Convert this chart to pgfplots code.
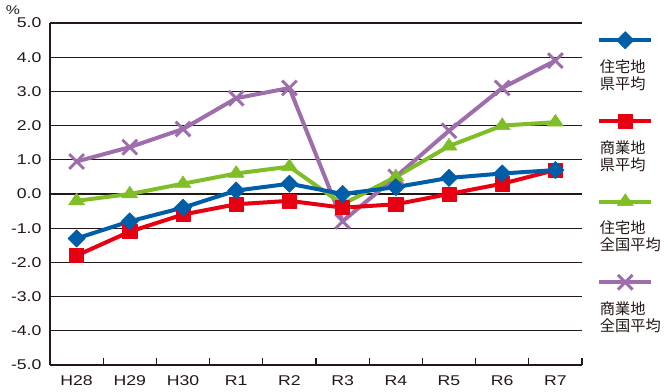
\documentclass[border=0pt]{standalone}
\usepackage{pgfplots}
\pgfplotsset{compat=1.18}
\usepackage{fontspec}
\setmainfont{Liberation Sans}
\newfontfamily\tickfont[FakeStretch=1.25]{Liberation Sans}
\newfontfamily\cjk{Noto Sans CJK JP}
\definecolor{cblue}{RGB}{0,94,168}
\definecolor{cred}{RGB}{230,0,18}
\definecolor{cgreen}{RGB}{128,190,40}
\definecolor{cpurple}{RGB}{158,110,172}
\definecolor{ctext}{RGB}{35,24,21}

\pgfplotsset{
  legtext/.style={legend image code/.code={%
    \path[draw=none,fill=none] (-2pt,-46pt) rectangle (41pt,14.5pt);
    \draw[##1,mark=none] (0pt,0pt) -- (39pt,0pt);
    \draw[##1] plot coordinates {(19.5pt,0pt)};
    \node[draw=none,fill=none,anchor=north west,align=left,inner sep=0pt,font=\cjk\fontsize{11.4}{12.75}\selectfont,text=ctext] at (-1pt,-13pt) {#1};
  }}
}

\begin{document}
\begin{tikzpicture}
\begin{axis}[
  name=ax,
  scale only axis,
  width=399pt, height=256.5pt,
  xmin=-0.5, xmax=9.5, ymin=-5, ymax=5,
  axis x line*=bottom, axis y line*=left,
  axis line style={-, line width=0.8pt, ctext},
  xtick={-0.5,0.5,1.5,2.5,3.5,4.5,5.5,6.5,7.5,8.5,9.5},
  x tick label as interval,
  xticklabels={H28,H29,H30,R1,R2,R3,R4,R5,R6,R7},
  xtick style={line width=0.8pt, ctext},
  tick align=inside,
  major tick length=5.25pt,
  ytick={-5,-4,-3,-2,-1,0,1,2,3,4,5},
  yticklabels={-5.0,-4.0,-3.0,-2.0,-1.0,0.0,1.0,2.0,3.0,4.0,5.0},
  ytick style={draw=none},
  ymajorgrids,
  major grid style={line width=0.8pt, ctext},
  ticklabel style={font=\tickfont\fontsize{10.6}{13}\selectfont, text=ctext},
  xticklabel style={anchor=base, inner sep=0pt, yshift=-15.4pt},
  yticklabel style={anchor=east, inner sep=0pt, xshift=-6.2pt},
  legend style={at={(1,1)}, anchor=north west, draw=none, fill=none,
    xshift=10.75pt, yshift=1.75pt, row sep=0pt, inner sep=0pt,
    nodes={inner sep=0pt}},
  reverse legend,
  clip=false,
  every axis plot/.append style={line width=3pt, line join=round},
]
\addplot[cpurple, mark=x, mark size=7.8pt, mark options={line width=2.2pt}, legtext={商業地\\全国平均}]
  coordinates {(0,0.95) (1,1.37) (2,1.9) (3,2.8) (4,3.1) (5,-0.8) (6,0.5) (7,1.85) (8,3.1) (9,3.9)};
\addlegendentry{}
\addplot[cgreen, mark=triangle*, mark size=7pt, mark options={line width=0.3pt, yscale=0.85}, legtext={住宅地\\全国平均}]
  coordinates {(0,-0.2) (1,0.0) (2,0.3) (3,0.6) (4,0.8) (5,-0.3) (6,0.5) (7,1.4) (8,2.0) (9,2.1)};
\addlegendentry{}
\addplot[cred, mark=square*, mark size=5.3pt, mark options={line width=0.4pt}, legtext={商業地\\県平均}]
  coordinates {(0,-1.8) (1,-1.1) (2,-0.6) (3,-0.3) (4,-0.2) (5,-0.4) (6,-0.3) (7,0.0) (8,0.3) (9,0.7)};
\addlegendentry{}
\addplot[cblue, mark=square*, mark size=4.6pt, mark options={line width=0.4pt, rotate=45}, legtext={住宅地\\県平均}]
  coordinates {(0,-1.3) (1,-0.8) (2,-0.4) (3,0.1) (4,0.3) (5,0.0) (6,0.2) (7,0.47) (8,0.6) (9,0.7)};
\addlegendentry{}
\end{axis}
\node[font=\tickfont\fontsize{9.5}{12}\selectfont, text=ctext] at ([xshift=-27.75pt,yshift=10pt]ax.north west) {\%};
\pgfresetboundingbox
\path ([xshift=-37.5pt,yshift=-20.25pt]ax.south west) rectangle ([xshift=64.5pt,yshift=17.25pt]ax.north east);
\end{tikzpicture}
\end{document}
